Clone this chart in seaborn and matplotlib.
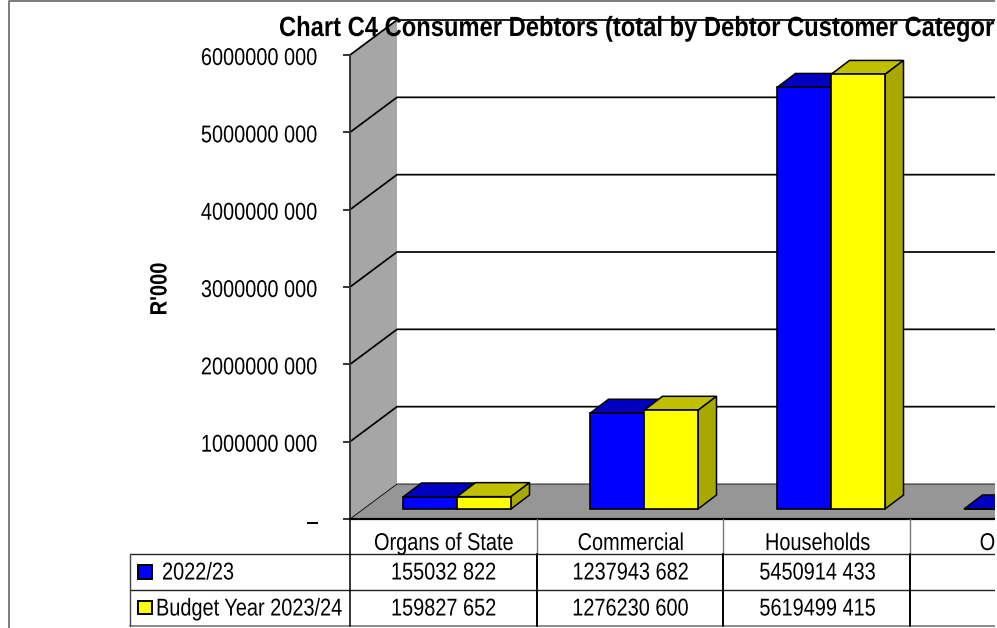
import matplotlib
matplotlib.use("Agg")
import matplotlib.pyplot as plt
from matplotlib.patches import Polygon, Rectangle
from matplotlib.patheffects import AbstractPathEffect
from matplotlib.transforms import Affine2D
import pandas as pd
import seaborn as sns

categories = ["Organs of State", "Commercial", "Households", "Other"]
years = ["2022/23", "Budget Year 2023/24"]
values_2022 = [155032822, 1237943682, 5450914433, 0]
values_2023 = [159827652, 1276230600, 5619499415, 0]
y_ticks = [0, 1000000000, 2000000000, 3000000000, 4000000000, 5000000000, 6000000000]
title = "Chart C4 Consumer Debtors (total by Debtor Customer Category)"

BLUE, YELLOW = "#0000FF", "#FFFF00"
TOPS = ["#0000C0", "#C0C000"]
SIDE = "#A8A800"
WALL, FLOOR = "#A6A6A6", "#969696"


# no narrow font is installed, so squeeze the glyphs of normal text around an anchor
class Squeeze(AbstractPathEffect):
    def __init__(self, sx=1, sy=1, x=0, y=0, down=0):
        super().__init__()
        self.t = Affine2D().translate(-x, -y).scale(sx, sy).translate(x, y - down)

    def draw_path(self, renderer, gc, tpath, affine, rgbFace=None):
        renderer.draw_path(gc, tpath, affine + self.t, rgbFace)


def money(v):
    if v == 0:
        return "\u2013"
    s = str(v)
    return s[:-3] + " " + s[-3:]


sns.set_theme(style="white")
plt.rcParams["font.family"] = ["Liberation Sans", "DejaVu Sans"]

W, H = 997, 628
NARROW = 0.82
fig = plt.figure(figsize=(W / 100, H / 100), dpi=100)
ax = fig.add_axes([350 / W, (H - 519) / H, 645 / W, 464 / H])

df = pd.DataFrame({
    "category": categories * 2,
    "year": [years[0]] * 4 + [years[1]] * 4,
    "value": values_2022 + values_2023,
})
sns.barplot(data=df, x="category", y="value", hue="year", palette=[BLUE, YELLOW],
            width=108 / 187, gap=0, saturation=1, edgecolor="black", linewidth=1.2,
            legend=False, ax=ax, zorder=4)

ax.set_xlim(-0.5, -0.5 + 645 / 187)
ax.set_ylim(0, y_ticks[-1])
ax.patch.set_alpha(0)
for s in ax.spines.values():
    s.set_visible(False)
ax.set_xticks([])
ax.set_xlabel("")
ax.set_ylabel("")
ax.set_yticks(y_ticks)
ax.set_yticklabels([money(t) for t in y_ticks], fontsize=17.5)
ax.tick_params(axis="y", length=5, width=1.1, color="black", pad=18, left=True, labelcolor="black")
for lab in ax.get_yticklabels():
    lab.set_path_effects([Squeeze(sx=NARROW, x=318, down=1.5)])

# pixel sizes converted to data units
ux = 1 / 187
uy = y_ticks[-1] / 464
x0, x1 = ax.get_xlim()
dx, dy = 47 * ux, 35 * uy
top = y_ticks[-1]

ax.add_patch(Polygon([(x0, 0), (x0 + dx, dy), (x0 + dx, top + dy), (x0, top)],
                     fc=WALL, ec="none", zorder=1, clip_on=False))
ax.add_patch(Polygon([(x0, 0), (x0 + dx, dy), (x1, dy), (x1, 0)],
                     fc=FLOOR, ec="none", zorder=1, clip_on=False))
for t in y_ticks:
    ax.plot([x0, x0 + dx, x1], [t, t + dy, t + dy], color="black", lw=1.25 if t else 0.6,
            zorder=2, clip_on=False, solid_joinstyle="miter")
ax.plot([x0, x0], [0, top], color="#333333", lw=1.4, zorder=2, clip_on=False)
ax.plot([x0, x1], [0, 0], color="black", lw=1.6, zorder=2, clip_on=False)

# lift the bars onto the middle of the floor and give them depth
shift_x, shift_y = 13.5 * ux, 10 * uy
bx, by = 18.5 * ux, 14 * uy
for cont, top_c in zip(ax.containers, TOPS):
    for p in cont:
        p.set_x(p.get_x() + shift_x)
        p.set_y(shift_y)
        p.set_clip_on(False)
        l, r = p.get_x(), p.get_x() + p.get_width()
        b, t = shift_y, shift_y + p.get_height()
        ax.add_patch(Polygon([(l, t), (l + bx, t + by), (r + bx, t + by), (r, t)],
                             fc=top_c, ec="black", lw=1.1, zorder=3, clip_on=False))
        ax.add_patch(Polygon([(r, b), (r + bx, b + by), (r + bx, t + by), (r, t)],
                             fc=SIDE, ec="black", lw=1.1, zorder=3, clip_on=False))

# overlay in image pixels: frame, table, title
ov = fig.add_axes([0, 0, 1, 1], zorder=5)
ov.set_xlim(0, W)
ov.set_ylim(H, 0)
ov.axis("off")
ov.patch.set_alpha(0)


def label(x, y, s, ha="center", sx=NARROW):
    txt = ov.text(x, y, s, fontsize=17.5, ha=ha, va="center", color="black")
    txt.set_path_effects([Squeeze(sx=sx, x=x)])
    return txt


ov.plot([9, 9, 995], [H, 1, 1], color="#666666", lw=1.2)
t_title = ov.text(279, 29, title, fontsize=20, fontweight="bold", va="center", ha="left", color="black")
t_title.set_path_effects([Squeeze(sx=0.855, x=279)])
t_y = ov.text(160, 289, "R'000", fontsize=17, fontweight="bold", rotation=90, va="center", ha="center", color="black")
t_y.set_path_effects([Squeeze(sy=0.85, y=H - 289)])

col_edges = [350, 537, 723, 910]
ov.plot([130, 995], [554, 554], color="#222222", lw=1)
ov.plot([130, 995], [590, 590], color="#222222", lw=1)
ov.plot([130, 995], [625.5, 625.5], color="#777777", lw=1.2)
ov.plot([130, 130], [554, 626], color="#444444", lw=1)
ov.plot([350, 350], [519, 626], color="black", lw=1.1)
for e in col_edges[1:]:
    ov.plot([e, e], [519, 554], color="#777777", lw=1)
    ov.plot([e, e], [554, 626], color="black", lw=1.4)

for i, (name, v1, v2) in enumerate(zip(categories, values_2022, values_2023)):
    cx = 350 + 187 * i + 93.5
    label(cx, 544, name)
    label(cx, 573.5, money(v1))
    label(cx, 609.5, money(v2))

ov.add_patch(Rectangle((137.5, 565), 14, 13.5, fc=BLUE, ec="black", lw=1.4))
ov.add_patch(Rectangle((137.5, 601), 14, 12.5, fc=YELLOW, ec="black", lw=1.4))
label(162, 573.5, years[0], ha="left")
label(156, 609.5, years[1], ha="left")

# the source image is cropped just short of its right edge
ov.add_patch(Rectangle((995, 0), 2, H, fc="white", ec="none", zorder=10))

fig.savefig("out.png", dpi=100)
